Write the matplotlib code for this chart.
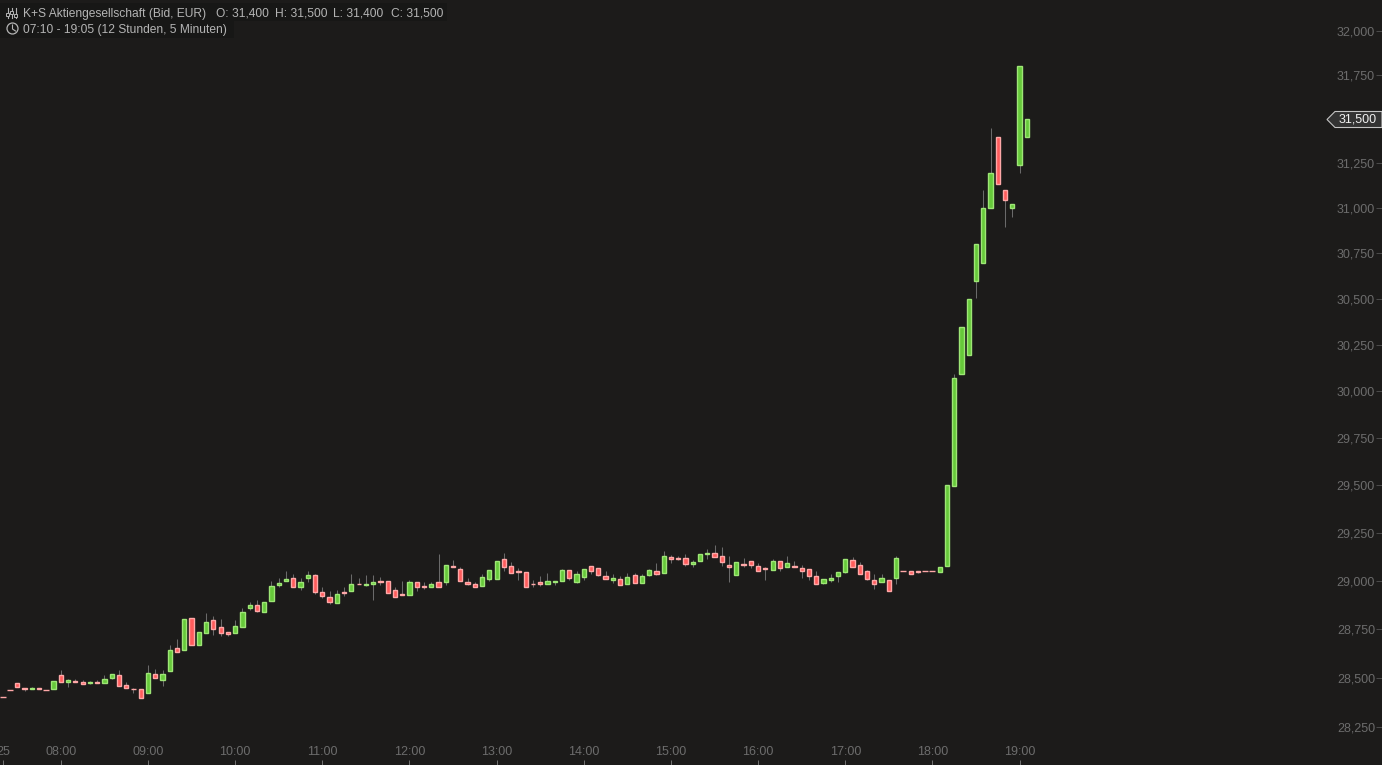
import matplotlib
matplotlib.use('Agg')
import matplotlib.pyplot as plt
from matplotlib.patches import Circle, Polygon, Rectangle
from matplotlib.ticker import NullLocator

plt.rcParams['font.family'] = ['Liberation Sans', 'DejaVu Sans']

# K+S Aktiengesellschaft, 5 minute candles from 07:20 to 19:05
first_candle = '07:20'
opens = [
    28400, 28435, 28475, 28450, 28445, 28450, 28435, 28440, 28515, 28480, 28485, 28480,
    28475, 28480, 28475, 28500, 28515, 28465, 28445, 28445, 28420, 28520, 28490, 28535,
    28650, 28640, 28805, 28665, 28730, 28795, 28760, 28735, 28730, 28760, 28860, 28875,
    28835, 28895, 28975, 29000, 29015, 28965, 29015, 29030, 28940, 28915, 28885, 28940,
    28945, 28985, 28975, 28985, 29000, 29000, 28950, 28930, 28925, 28995, 28970, 28965,
    28995, 28995, 29075, 29060, 28995, 28980, 28970, 29010, 29010, 29110, 29075, 29050,
    29045, 28985, 28995, 28980, 28995, 29000, 29055, 28995, 29020, 29075, 29065, 29025,
    29005, 29010, 28980, 29030, 28990, 29030, 29050, 29040, 29125, 29120, 29120, 29085,
    29100, 29140, 29145, 29130, 29080, 29030, 29085, 29100, 29075, 29065, 29055, 29100,
    29070, 29075, 29065, 29060, 29025, 28990, 29005, 29025, 29045, 29105, 29080, 29050,
    29005, 28995, 29005, 29015, 29050, 29050, 29050, 29050, 29050, 29045, 29075, 29495,
    30095, 30195, 30600, 30700, 31000, 31400, 31100, 31000, 31240, 31400,
]
closes = [
    28400, 28435, 28455, 28440, 28450, 28440, 28435, 28485, 28480, 28490, 28480, 28470,
    28480, 28475, 28495, 28520, 28460, 28450, 28440, 28395, 28525, 28500, 28520, 28640,
    28630, 28800, 28665, 28735, 28785, 28750, 28730, 28725, 28765, 28840, 28875, 28845,
    28890, 28970, 28990, 29010, 28965, 28995, 29030, 28940, 28920, 28890, 28930, 28935,
    28980, 28980, 28980, 28995, 28995, 28935, 28915, 28925, 28995, 28965, 28965, 28985,
    28965, 29080, 29070, 29000, 28980, 28965, 29020, 29055, 29100, 29070, 29040, 29045,
    28965, 28980, 28985, 29000, 29000, 29055, 29015, 29035, 29060, 29050, 29030, 29010,
    29015, 28975, 29020, 28990, 29025, 29055, 29035, 29130, 29115, 29110, 29085, 29095,
    29140, 29145, 29125, 29095, 29070, 29095, 29080, 29080, 29050, 29060, 29100, 29065,
    29090, 29070, 29050, 29025, 28980, 29010, 29015, 29045, 29110, 29070, 29035, 29010,
    28985, 29015, 28945, 29120, 29050, 29035, 29045, 29050, 29050, 29070, 29500, 30070,
    30350, 30500, 30800, 31000, 31195, 31135, 31045, 31025, 31800, 31500,
]
highs = [
    28400, 28435, 28475, 28450, 28455, 28450, 28435, 28485, 28540, 28495, 28495, 28490,
    28485, 28490, 28515, 28520, 28540, 28480, 28450, 28445, 28565, 28545, 28540, 28670,
    28700, 28800, 28805, 28735, 28830, 28815, 28800, 28735, 28795, 28860, 28890, 28900,
    28890, 29000, 29015, 29050, 29035, 29015, 29050, 29035, 28965, 28945, 28950, 28965,
    29035, 29015, 29030, 29030, 29020, 29000, 28965, 29000, 29005, 28995, 28995, 28995,
    29140, 29080, 29105, 29070, 29015, 28995, 29035, 29055, 29100, 29145, 29095, 29065,
    29045, 29005, 29025, 29040, 29000, 29060, 29055, 29050, 29060, 29075, 29065, 29050,
    29035, 29025, 29040, 29040, 29035, 29060, 29090, 29155, 29135, 29130, 29140, 29105,
    29140, 29165, 29185, 29175, 29130, 29095, 29120, 29100, 29090, 29070, 29115, 29100,
    29130, 29100, 29080, 29060, 29050, 29010, 29035, 29045, 29115, 29125, 29095, 29055,
    29035, 29035, 29005, 29130, 29050, 29050, 29050, 29050, 29050, 29070, 29500, 30095,
    30350, 30500, 30800, 31100, 31450, 31400, 31100, 31025, 31800, 31500,
]
lows = [
    28400, 28435, 28455, 28430, 28445, 28440, 28435, 28440, 28480, 28455, 28480, 28470,
    28470, 28475, 28475, 28495, 28460, 28450, 28420, 28395, 28420, 28500, 28460, 28535,
    28630, 28640, 28665, 28665, 28730, 28720, 28715, 28715, 28730, 28760, 28850, 28835,
    28835, 28895, 28965, 29000, 28965, 28950, 28995, 28930, 28910, 28880, 28885, 28920,
    28945, 28980, 28970, 28900, 28975, 28935, 28915, 28925, 28925, 28945, 28955, 28965,
    28965, 28975, 29070, 29000, 28975, 28965, 28970, 29000, 29010, 29050, 29040, 29005,
    28965, 28965, 28970, 28980, 28975, 29000, 29005, 28990, 29005, 29035, 29025, 29010,
    28990, 28975, 28980, 28990, 28990, 29025, 29030, 29040, 29090, 29105, 29075, 29070,
    29100, 29115, 29125, 29075, 28995, 29030, 29070, 29065, 29050, 29005, 29055, 29050,
    29070, 29070, 29015, 29005, 28980, 28985, 28995, 28995, 29040, 29070, 29035, 29005,
    28955, 28995, 28945, 28980, 29050, 29035, 29040, 29050, 29050, 29045, 29075, 29495,
    30095, 30195, 30505, 30700, 31000, 31135, 30895, 30950, 31195, 31400,
]

ytick_values = [28250, 28500, 28750, 29000, 29250, 29500, 29750, 30000, 30250, 30500,
                30750, 31000, 31250, 31750, 32000]
xtick_times = ['07:20', '08:00', '09:00', '10:00', '11:00', '12:00', '13:00', '14:00',
               '15:00', '16:00', '17:00', '18:00', '19:00']
xtick_labels = ['25', '08:00', '09:00', '10:00', '11:00', '12:00', '13:00', '14:00',
                '15:00', '16:00', '17:00', '18:00', '19:00']
last_price = 31500

BG = '#1c1b1a'
UP_FILL, UP_EDGE = '#66c93a', '#9ee676'
DOWN_FILL, DOWN_EDGE = '#ff5c5c', '#ffa8a8'
WICK = '#6a6a6a'
AXIS_TEXT = '#6c6c6c'
HEAD_TEXT = '#b4b4b4'
W, H = 1382, 765


def minutes(t):
    return int(t[:2]) * 60 + int(t[3:])


def fx(px):
    return px / W


def fy(py):
    return 1 - py / H


fig = plt.figure(figsize=(W / 100, H / 100), dpi=100, facecolor=BG)
ax = fig.add_axes([0, 0, 1, 1], facecolor=BG)

x = [minutes(first_candle) + 5 * i for i in range(len(opens))]
ax.vlines(x, lows, highs, color=WICK, linewidth=0.75, zorder=1)

for xi, o, c in zip(x, opens, closes):
    up = c > o
    fill = UP_FILL if up else DOWN_FILL
    edge = UP_EDGE if up else DOWN_EDGE
    if o == c:
        # unchanged candle is only a short pale dash
        ax.hlines(o, xi - 2.1, xi + 2.1, color=DOWN_EDGE, linewidth=1.0, zorder=2)
        continue
    ax.bar(xi, abs(c - o), bottom=min(o, c), width=2.9, color=fill, edgecolor=edge,
           linewidth=1.0, zorder=2)

ax.set_yscale('log')
ax.set_ylim(28058, 32178)
ax.set_xlim(438.1, 1389.5)
ax.yaxis.set_minor_locator(NullLocator())

ax.yaxis.tick_right()
ax.set_yticks(ytick_values)
ax.set_yticklabels([f'{v // 1000},{v % 1000:03d}' for v in ytick_values], ha='right')
ax.tick_params(axis='y', direction='in', length=4.3, width=0.72, color='#4a4a4a',
               labelcolor=AXIS_TEXT, labelsize=9, pad=-5)
ax.set_xticks([minutes(t) for t in xtick_times])
ax.set_xticklabels(xtick_labels, va='bottom')
ax.tick_params(axis='x', direction='in', length=3.6, width=0.72, color='#707070',
               labelcolor=AXIS_TEXT, labelsize=9, pad=-4.8)
for side in ax.spines.values():
    side.set_visible(False)

# header bands
fig.add_artist(Rectangle((0, fy(21)), fx(447), 18 / H, transform=fig.transFigure,
                         color='#171716', lw=0, zorder=3))
fig.add_artist(Rectangle((0, fy(38)), fx(234), 17 / H, transform=fig.transFigure,
                         color='#171716', lw=0, zorder=3))

header_parts = [
    (23, 'K+S Aktiengesellschaft (Bid, EUR)'),
    (216, 'O: 31,400'),
    (275, 'H: 31,500'),
    (333, 'L: 31,400'),
    (391, 'C: 31,500'),
]
for px, label in header_parts:
    fig.text(fx(px), fy(13.5), label, color=HEAD_TEXT, fontsize=8.65, va='center', zorder=4)
fig.text(fx(23), fy(29.5), '07:10 - 19:05 (12 Stunden, 5 Minuten)', color=HEAD_TEXT,
         fontsize=8.65, va='center', zorder=4)

# chart type icon
for px, top, bottom, dot in [(7.5, 8, 18, 14), (11.5, 8, 18, 12), (15.5, 8, 18, 15)]:
    fig.add_artist(plt.Line2D([fx(px), fx(px)], [fy(top), fy(bottom)], color=HEAD_TEXT,
                              lw=0.8, zorder=4))
    fig.add_artist(Rectangle((fx(px - 1.5), fy(dot + 1.5)), 3 / W, 3 / H,
                             transform=fig.transFigure, facecolor='#171716',
                             edgecolor=HEAD_TEXT, lw=0.7, zorder=5))

# clock icon
fig.add_artist(Circle((12.5, H - 28.5), 5.5, transform=None, fill=False, edgecolor=HEAD_TEXT,
                      lw=0.9, zorder=4))
fig.add_artist(plt.Line2D([fx(12.5), fx(12.5), fx(15.5)], [fy(25), fy(29), fy(31)],
                          color=HEAD_TEXT, lw=0.8, zorder=4))

# last price tag
tag = [(1327, 119.5), (1335, 111.5), (1382, 111.5), (1382, 127.5), (1335, 127.5)]
fig.add_artist(Polygon([(fx(a), fy(b)) for a, b in tag], closed=True,
                       transform=fig.transFigure, facecolor='#333333', edgecolor='#c4c4c4',
                       lw=0.8, zorder=4))
fig.text(fx(1377), fy(120), f'{last_price // 1000},{last_price % 1000:03d}', color='#f0f0f0',
         fontsize=9, ha='right', va='center', zorder=5)

fig.savefig('out.png', dpi=100, facecolor=BG)
